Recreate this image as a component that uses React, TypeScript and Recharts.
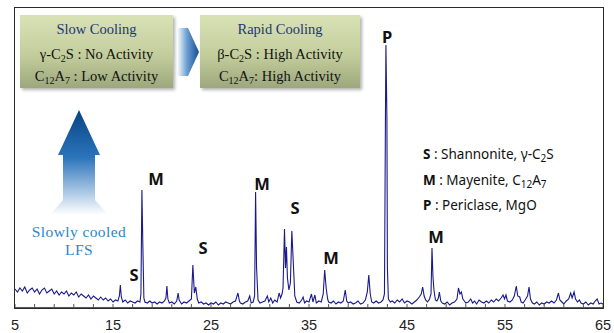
import { ComposedChart, Line, XAxis, YAxis, ReferenceDot } from 'recharts'

// XRD scan of slowly cooled LFS: [2θ, intensity]
const scan: [number, number][] = [
  [5.0, 19], [5.25, 16], [5.5, 20], [5.75, 17], [6.0, 21], [6.25, 15], [6.5, 18], [6.75, 20],
  [7.0, 16], [7.25, 19], [7.5, 14], [7.75, 18], [8.0, 20], [8.25, 15], [8.5, 17], [8.75, 19],
  [9.0, 14], [9.25, 17], [9.5, 13], [9.75, 16], [10.0, 14], [10.25, 17], [10.5, 12], [10.75, 15],
  [11.0, 13], [11.25, 16], [11.5, 11], [11.75, 14], [12.0, 12], [12.25, 10], [12.5, 13], [12.75, 9],
  [13.0, 12], [13.25, 10], [13.5, 8], [13.75, 11], [14.0, 8], [14.25, 10], [14.5, 7], [14.75, 9],
  [15.0, 6], [15.25, 8], [15.5, 7], [15.65, 12], [15.75, 23], [15.85, 11],
  [16.0, 6], [16.25, 8], [16.5, 5], [16.75, 7], [17.0, 6], [17.25, 5], [17.5, 7], [17.75, 6],
  [17.85, 14], [17.95, 118], [18.05, 60], [18.15, 10],
  [18.25, 6], [18.5, 5], [18.75, 7], [19.0, 5], [19.25, 6], [19.5, 4], [19.75, 6], [20.0, 5], [20.25, 7],
  [20.4, 10], [20.5, 22], [20.6, 9],
  [20.75, 5], [21.0, 6], [21.25, 4], [21.5, 7], [21.65, 15], [21.75, 8],
  [22.0, 4], [22.25, 6], [22.5, 5], [22.75, 7], [23.0, 9],
  [23.15, 43], [23.3, 15], [23.45, 21], [23.6, 9],
  [23.75, 5], [24.0, 6], [24.25, 4], [24.5, 5], [24.75, 3], [25.0, 5], [25.25, 4], [25.5, 6],
  [25.75, 3], [26.0, 5], [26.25, 4], [26.5, 6], [26.75, 5], [27.0, 4], [27.25, 6], [27.5, 7],
  [27.75, 15], [27.9, 7], [28.0, 5], [28.25, 4], [28.5, 6], [28.75, 7],
  [28.95, 12], [29.1, 5], [29.3, 6],
  [29.45, 12], [29.55, 116], [29.65, 40], [29.8, 8],
  [30.0, 5], [30.25, 6], [30.5, 7], [30.75, 12], [30.9, 6], [31.1, 10], [31.3, 5], [31.5, 8],
  [31.75, 6], [31.95, 15], [32.1, 10], [32.25, 14], [32.35, 20],
  [32.5, 79], [32.6, 40], [32.7, 61], [32.8, 30], [32.95, 18], [33.1, 25], [33.25, 77], [33.4, 45], [33.55, 12],
  [33.75, 6], [34.0, 5], [34.25, 8], [34.4, 11], [34.55, 5], [34.75, 7], [35.0, 6], [35.25, 14],
  [35.4, 6], [35.6, 13], [35.75, 5], [36.0, 7], [36.25, 6], [36.45, 14],
  [36.6, 38], [36.75, 20], [36.9, 9],
  [37.0, 6], [37.25, 5], [37.5, 7], [37.75, 4], [38.0, 6], [38.25, 5], [38.5, 7], [38.7, 18],
  [38.85, 7], [39.0, 5], [39.25, 6], [39.5, 4], [39.75, 5], [40.0, 7], [40.25, 4], [40.5, 5],
  [40.75, 8], [40.95, 16], [41.1, 33], [41.25, 14], [41.4, 6], [41.6, 5], [41.85, 7], [42.1, 5],
  [42.35, 6], [42.55, 8], [42.7, 14],
  [42.8, 190], [42.85, 263], [42.95, 190], [43.0, 40], [43.1, 9],
  [43.3, 6], [43.5, 7], [43.75, 5], [44.0, 8], [44.25, 6], [44.5, 9], [44.75, 5], [45.0, 7],
  [45.25, 6], [45.5, 4], [45.75, 6], [46.0, 8], [46.25, 11], [46.45, 14], [46.6, 21], [46.75, 12],
  [46.9, 8], [47.1, 6], [47.3, 9], [47.45, 14],
  [47.55, 60], [47.65, 31], [47.75, 18], [47.9, 8], [48.05, 7], [48.2, 10], [48.3, 16], [48.45, 7],
  [48.6, 5], [48.85, 4], [49.1, 6], [49.35, 3], [49.6, 5], [49.85, 6], [50.1, 9], [50.25, 20],
  [50.4, 14], [50.55, 16], [50.7, 9], [50.85, 7], [51.0, 5], [51.25, 6], [51.5, 9], [51.7, 5],
  [51.9, 7], [52.1, 4], [52.35, 8], [52.6, 6], [52.85, 5], [53.1, 7], [53.35, 5], [53.6, 8],
  [53.85, 6], [54.1, 9], [54.35, 7], [54.6, 10], [54.8, 13], [54.95, 9], [55.1, 13], [55.25, 7],
  [55.5, 6], [55.75, 8], [55.95, 12], [56.15, 22], [56.3, 12], [56.5, 11], [56.65, 6], [56.85, 5],
  [57.05, 8], [57.3, 12], [57.45, 21], [57.6, 9], [57.8, 5], [58.0, 4], [58.25, 6], [58.5, 3],
  [58.75, 5], [59.0, 4], [59.25, 6], [59.5, 5], [59.75, 7], [60.0, 5], [60.25, 8], [60.45, 15],
  [60.6, 8], [60.8, 6], [61.0, 4], [61.25, 7], [61.5, 9], [61.7, 15], [61.85, 10], [62.05, 16],
  [62.2, 9], [62.4, 6], [62.6, 8], [62.75, 5], [63.0, 4], [63.25, 6], [63.5, 3], [63.75, 5],
  [64.0, 4], [64.2, 7], [64.4, 9], [64.6, 4], [64.8, 5], [65.0, 4],
]

// phase labels placed above peaks: [2θ, height, letter]
const peakLabels: [number, number, string][] = [
  [17.14, 33, 'S'], [19.39, 129, 'M'], [24.18, 60, 'S'], [30.2, 124, 'M'],
  [33.57, 100, 'S'], [37.24, 50, 'M'], [42.96, 271, 'P'], [47.96, 71, 'M'],
]

const tickValues = [5, 7, 9, 11, 13, 15, 17, 19, 21, 23, 25, 27, 29, 31, 33, 35, 37, 39, 41, 43, 45, 47, 49, 51, 53, 55, 57, 59, 61, 63, 65]
const tickLabels = [5, 15, 25, 35, 45, 55, 65]

const data = scan.map(([t, i]) => ({ t, i }))

const sans = '"Liberation Sans", Arial, sans-serif'
const serif = '"Liberation Serif", "DejaVu Serif", serif'

function XTick(props: any) {
  const { x, y, payload } = props
  const v = payload.value
  return (
    <g>
      <line x1={x} x2={x} y1={y} y2={y - 4} stroke="#555" strokeWidth={1} />
      {tickLabels.includes(v) && (
        <text x={x} y={y + 22} textAnchor="middle" fontSize={14.5} fill="#222" fontFamily={sans}>{v}</text>
      )}
    </g>
  )
}

const boxStyle: React.CSSProperties = {
  position: 'absolute', top: 15, height: 73,
  background: 'linear-gradient(#d8e2b6, #c3cd9c 55%, #9ca77c)',
  boxShadow: '2px 2px 3px rgba(0,0,0,0.3)',
  fontFamily: serif, fontSize: 14.5, color: '#111', textAlign: 'center',
}
const sub = { fontSize: 10, verticalAlign: -3, lineHeight: 0 } as React.CSSProperties

function Box({ left, width, title, l1, l2 }: { left: number; width: number; title: string; l1: React.ReactNode; l2: React.ReactNode }) {
  return (
    <div style={{ ...boxStyle, left, width }}>
      <div style={{ position: 'absolute', top: 6, width: '100%', color: '#22357a' }}>{title}</div>
      <div style={{ position: 'absolute', top: 31, width: '100%' }}>{l1}</div>
      <div style={{ position: 'absolute', top: 53, width: '100%' }}>{l2}</div>
    </div>
  )
}

const legendRow = { height: 25.5, lineHeight: '25.5px', whiteSpace: 'nowrap' } as React.CSSProperties

export default function App() {
  return (
    <div style={{ position: 'absolute', left: 0, top: 0, width: 614, height: 333, background: '#fff' }}>
      <ComposedChart width={614} height={333} data={data} margin={{ top: 8, right: 11, left: 15, bottom: 0 }}>
        <XAxis
          dataKey="t" type="number" domain={[5, 65]} ticks={tickValues} interval={0}
          tick={<XTick />} tickLine={false} tickSize={0} tickMargin={0} height={25}
          axisLine={{ stroke: '#222', strokeWidth: 1.5 }}
        />
        <YAxis hide type="number" domain={[0, 300]} />
        <Line type="linear" dataKey="i" stroke="#1a1a8c" strokeWidth={1.1} dot={false} isAnimationActive={false} />
        {peakLabels.map(([t, h, s], k) => (
          <ReferenceDot key={k} x={t} y={h} r={0} stroke="none" fill="none"
            label={{ value: s, position: 'center', fill: '#111', fontSize: 16.5, fontWeight: 700, fontFamily: '"Noto Sans", sans-serif' }} />
        ))}
      </ComposedChart>

      <div style={{ position: 'absolute', left: 14, top: 7, width: 590, height: 302, border: '1.5px solid #2a2a2a', boxSizing: 'border-box', pointerEvents: 'none' }} />

      <Box left={20} width={153} title="Slow Cooling"
        l1={<span>γ-C<span style={sub}>2</span>S : No Activity</span>}
        l2={<span>C<span style={sub}>12</span>A<span style={sub}>7</span> : Low Activity</span>} />
      <Box left={200} width={160} title="Rapid Cooling"
        l1={<span>β-C<span style={sub}>2</span>S : High Activity</span>}
        l2={<span>C<span style={sub}>12</span>A<span style={sub}>7</span>: High Activity</span>} />

      <svg width={614} height={333} style={{ position: 'absolute', left: 0, top: 0, pointerEvents: 'none' }}>
        <defs>
          <linearGradient id="rArrow" x1="0" y1="0" x2="1" y2="0">
            <stop offset="0%" stopColor="#ffffff" />
            <stop offset="45%" stopColor="#6c9fd2" />
            <stop offset="100%" stopColor="#164f95" />
          </linearGradient>
          <linearGradient id="uArrow" x1="0" y1="0" x2="0" y2="1">
            <stop offset="0%" stopColor="#0b4380" />
            <stop offset="45%" stopColor="#2a74bb" />
            <stop offset="100%" stopColor="#ffffff" />
          </linearGradient>
        </defs>
        <polygon points="177,28 188,28 199,52 188,76 177,76" fill="url(#rArrow)" />
        <polygon points="79,110 100,155 95,155 95,200 108,215 50,215 63,200 63,155 58,155" fill="url(#uArrow)" />
      </svg>

      <div style={{ position: 'absolute', left: 18, top: 223, width: 122, textAlign: 'center', fontFamily: serif, fontSize: 15.5, lineHeight: '18px', letterSpacing: 0.4, color: '#2c86cc' }}>
        Slowly cooled<br />LFS
      </div>

      <div style={{ position: 'absolute', left: 423, top: 142, fontFamily: '"Noto Sans", sans-serif', fontSize: 13.5, color: '#111' }}>
        <div style={legendRow}><b>S</b> : Shannonite, γ-C<span style={sub}>2</span>S</div>
        <div style={legendRow}><b>M</b> : Mayenite, C<span style={sub}>12</span>A<span style={sub}>7</span></div>
        <div style={legendRow}><b>P</b> : Periclase, MgO</div>
      </div>
    </div>
  )
}
